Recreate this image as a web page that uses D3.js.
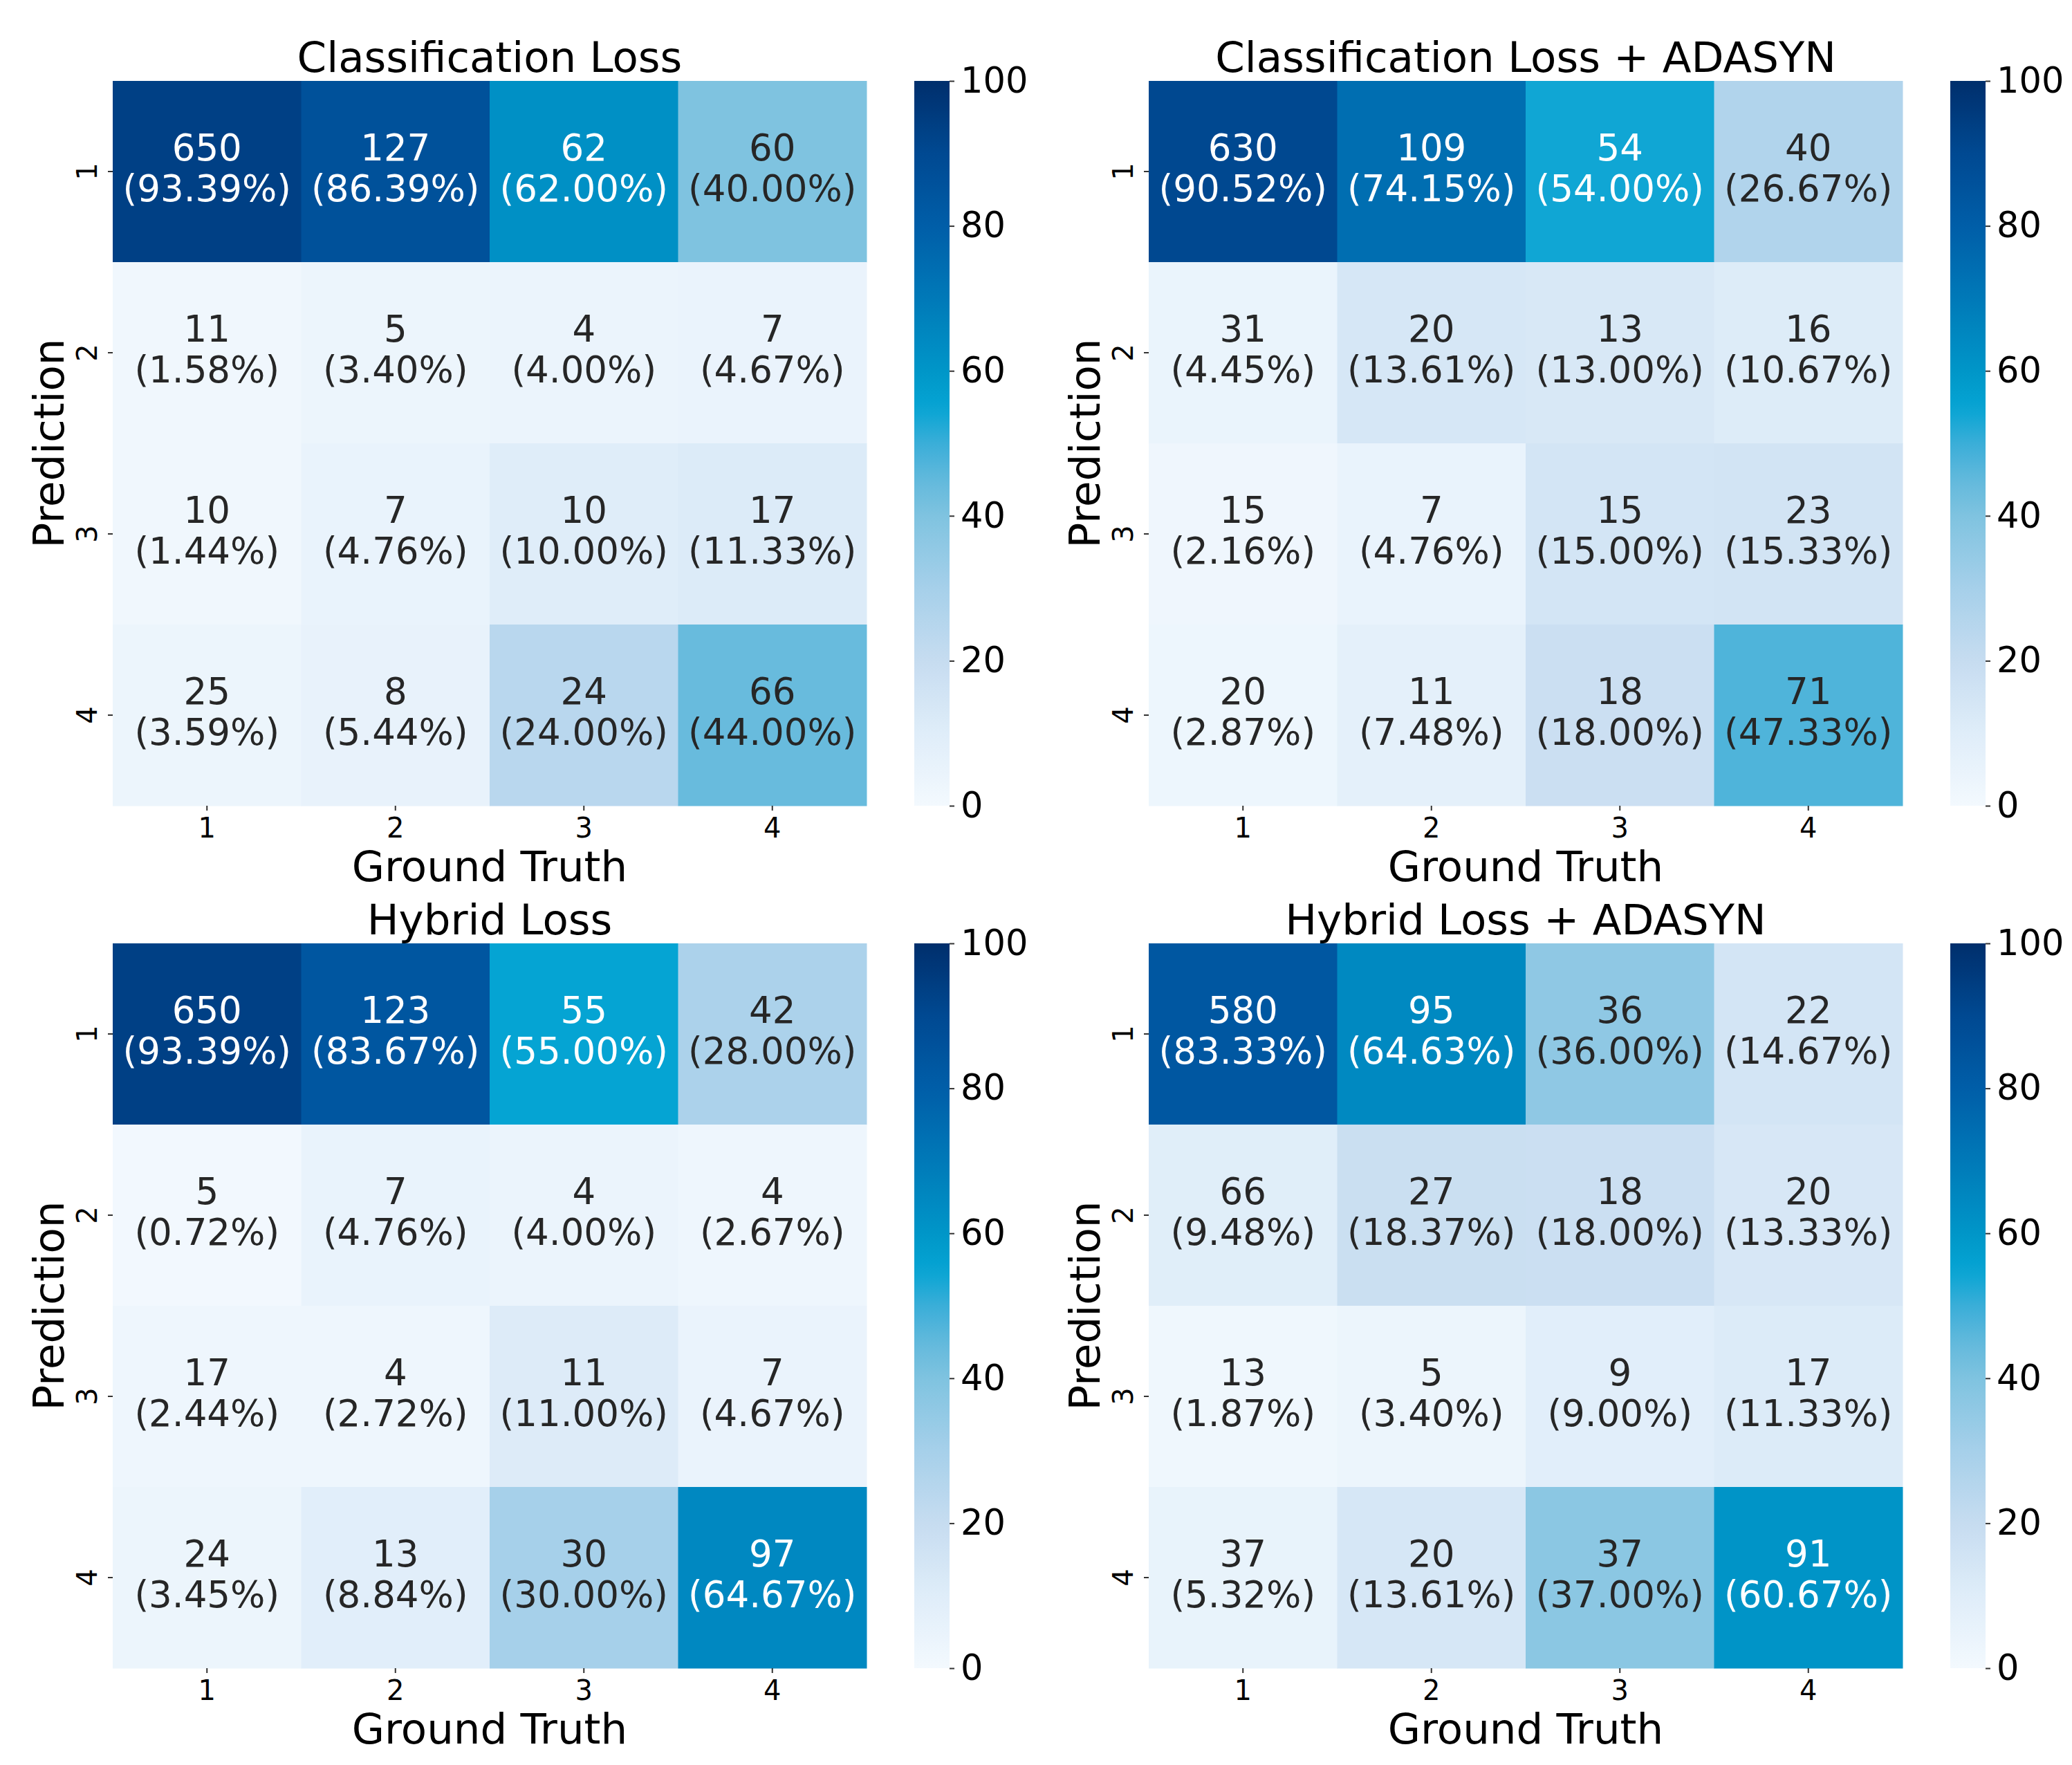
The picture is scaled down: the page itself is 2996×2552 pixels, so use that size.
<!DOCTYPE html>
<html>
<head>
<meta charset="utf-8">
<script src="https://cdn.jsdelivr.net/npm/d3@7/dist/d3.min.js"></script>
<style>
  html, body { margin: 0; padding: 0; background: #ffffff; }
  svg { display: block; }
  text { font-family: "DejaVu Sans", sans-serif; }
</style>
</head>
<body>
<svg id="chart" width="2996" height="2552"></svg>
<script>
// ---------------- DATA ----------------
const categories = ["1", "2", "3", "4"];           // Ground Truth (columns) & Prediction (rows)
const panelTitles = [
  "Classification Loss",
  "Classification Loss + ADASYN",
  "Hybrid Loss",
  "Hybrid Loss + ADASYN"
];
const xAxisLabel = "Ground Truth";
const yAxisLabel = "Prediction";
const colorbarTicks = [0, 20, 40, 60, 80, 100];

// rows = Prediction 1..4, columns = Ground Truth 1..4
const countsClassification = [
  [650, 127, 62, 60],
  [11, 5, 4, 7],
  [10, 7, 10, 17],
  [25, 8, 24, 66]
];
const percentClassification = [
  [93.39, 86.39, 62.00, 40.00],
  [1.58, 3.40, 4.00, 4.67],
  [1.44, 4.76, 10.00, 11.33],
  [3.59, 5.44, 24.00, 44.00]
];

const countsClassificationAdasyn = [
  [630, 109, 54, 40],
  [31, 20, 13, 16],
  [15, 7, 15, 23],
  [20, 11, 18, 71]
];
const percentClassificationAdasyn = [
  [90.52, 74.15, 54.00, 26.67],
  [4.45, 13.61, 13.00, 10.67],
  [2.16, 4.76, 15.00, 15.33],
  [2.87, 7.48, 18.00, 47.33]
];

const countsHybrid = [
  [650, 123, 55, 42],
  [5, 7, 4, 4],
  [17, 4, 11, 7],
  [24, 13, 30, 97]
];
const percentHybrid = [
  [93.39, 83.67, 55.00, 28.00],
  [0.72, 4.76, 4.00, 2.67],
  [2.44, 2.72, 11.00, 4.67],
  [3.45, 8.84, 30.00, 64.67]
];

const countsHybridAdasyn = [
  [580, 95, 36, 22],
  [66, 27, 18, 20],
  [13, 5, 9, 17],
  [37, 20, 37, 91]
];
const percentHybridAdasyn = [
  [83.33, 64.63, 36.00, 14.67],
  [9.48, 18.37, 18.00, 13.33],
  [1.87, 3.40, 9.00, 11.33],
  [5.32, 13.61, 37.00, 60.67]
];

const panelCounts = [countsClassification, countsClassificationAdasyn, countsHybrid, countsHybridAdasyn];
const panelPercents = [percentClassification, percentClassificationAdasyn, percentHybrid, percentHybridAdasyn];

// ---------------- STYLE / LAYOUT ----------------
const colorStops = [0, 10, 20, 30, 40, 45, 50, 55, 60, 70, 80, 90, 100];
const colorRamp = ["#f3f9fe", "#dfedf9", "#c6dcf0", "#a6d0ea", "#7fc3e0", "#62b9dc",
                   "#3aaed8", "#05a4d3", "#0096c8", "#0079b8", "#005ea8", "#004992", "#002f6c"];
const color = d3.scaleLinear().domain(colorStops).range(colorRamp).interpolate(d3.interpolateRgb).clamp(true);

const panelW = 1090, panelH = 1048;
const panelOrigins = [[163, 117], [1661, 117], [163, 1364], [1661, 1364]];
const cbGap = 69, cbW = 51;
const textDark = "#262626";

const svg = d3.select("#chart");
svg.append("rect").attr("width", 2996).attr("height", 2552).attr("fill", "#ffffff");

const defs = svg.append("defs");
const grad = defs.append("linearGradient").attr("id", "cbgrad")
  .attr("x1", "0%").attr("y1", "100%").attr("x2", "0%").attr("y2", "0%");
d3.range(0, 101, 2).forEach(v => {
  grad.append("stop").attr("offset", v + "%").attr("stop-color", color(v));
});

panelTitles.forEach((title, p) => {
  const [ox, oy] = panelOrigins[p];
  const counts = panelCounts[p];
  const pcts = panelPercents[p];

  const x = d3.scaleBand().domain(categories).range([0, panelW]).padding(0);
  const y = d3.scaleBand().domain(categories).range([0, panelH]).padding(0);

  const g = svg.append("g").attr("transform", `translate(${ox},${oy})`);

  const cells = [];
  categories.forEach((rowCat, r) => {
    categories.forEach((colCat, c) => {
      cells.push({ row: rowCat, col: colCat, count: counts[r][c], pct: pcts[r][c] });
    });
  });

  g.selectAll("rect.cell").data(cells).enter().append("rect")
    .attr("class", "cell")
    .attr("x", d => x(d.col))
    .attr("y", d => y(d.row))
    .attr("width", x.bandwidth() + 0.5)
    .attr("height", y.bandwidth() + 0.5)
    .attr("fill", d => color(d.pct));

  const labels = g.selectAll("g.lbl").data(cells).enter().append("g")
    .attr("class", "lbl")
    .attr("transform", d => `translate(${x(d.col) + x.bandwidth() / 2},${y(d.row) + y.bandwidth() / 2})`);
  labels.append("text")
    .attr("text-anchor", "middle")
    .attr("y", -16)
    .attr("font-size", 53)
    .attr("fill", d => d.pct > 50 ? "#ffffff" : textDark)
    .text(d => d.count);
  labels.append("text")
    .attr("text-anchor", "middle")
    .attr("y", 43)
    .attr("font-size", 53)
    .attr("fill", d => d.pct > 50 ? "#ffffff" : textDark)
    .text(d => `(${d.pct.toFixed(2)}%)`);

  // x axis
  const xAxis = g.append("g").attr("transform", `translate(0,${panelH})`)
    .call(d3.axisBottom(x).tickSize(7).tickPadding(8));
  xAxis.select(".domain").remove();
  xAxis.selectAll(".tick line").attr("stroke", "#333").attr("stroke-width", 2);
  xAxis.selectAll(".tick text").attr("font-size", 40).attr("fill", "#000")
    .attr("font-family", "DejaVu Sans").attr("dy", null).attr("y", 46);

  // y axis
  const yAxis = g.append("g")
    .call(d3.axisLeft(y).tickSize(7).tickPadding(8));
  yAxis.select(".domain").remove();
  yAxis.selectAll(".tick line").attr("stroke", "#333").attr("stroke-width", 2);
  yAxis.selectAll(".tick text")
    .attr("font-size", 40).attr("fill", "#000").attr("font-family", "DejaVu Sans")
    .attr("x", null).attr("dy", null)
    .attr("text-anchor", "middle")
    .attr("transform", "translate(-23,0) rotate(-90)");

  // title
  g.append("text").attr("x", panelW / 2).attr("y", -13)
    .attr("text-anchor", "middle").attr("font-size", 61).attr("fill", "#000")
    .text(title);

  // axis labels
  g.append("text").attr("x", panelW / 2).attr("y", panelH + 109)
    .attr("text-anchor", "middle").attr("font-size", 61).attr("fill", "#000")
    .text(xAxisLabel);
  g.append("text")
    .attr("transform", `translate(-71,${panelH / 2}) rotate(-90)`)
    .attr("text-anchor", "middle").attr("font-size", 61).attr("fill", "#000")
    .text(yAxisLabel);

  // colorbar
  const cbX = panelW + cbGap;
  const cbScale = d3.scaleLinear().domain([0, 100]).range([panelH, 0]);
  g.append("rect").attr("x", cbX).attr("y", 0).attr("width", cbW).attr("height", panelH)
    .attr("fill", "url(#cbgrad)");
  const cbAxis = g.append("g").attr("transform", `translate(${cbX + cbW},0)`)
    .call(d3.axisRight(cbScale).tickValues(colorbarTicks).tickSize(7).tickPadding(9));
  cbAxis.select(".domain").remove();
  cbAxis.selectAll(".tick line").attr("stroke", "#333").attr("stroke-width", 2);
  cbAxis.selectAll(".tick text").attr("font-size", 51).attr("fill", "#000")
    .attr("font-family", "DejaVu Sans");
});
</script>
</body>
</html>
